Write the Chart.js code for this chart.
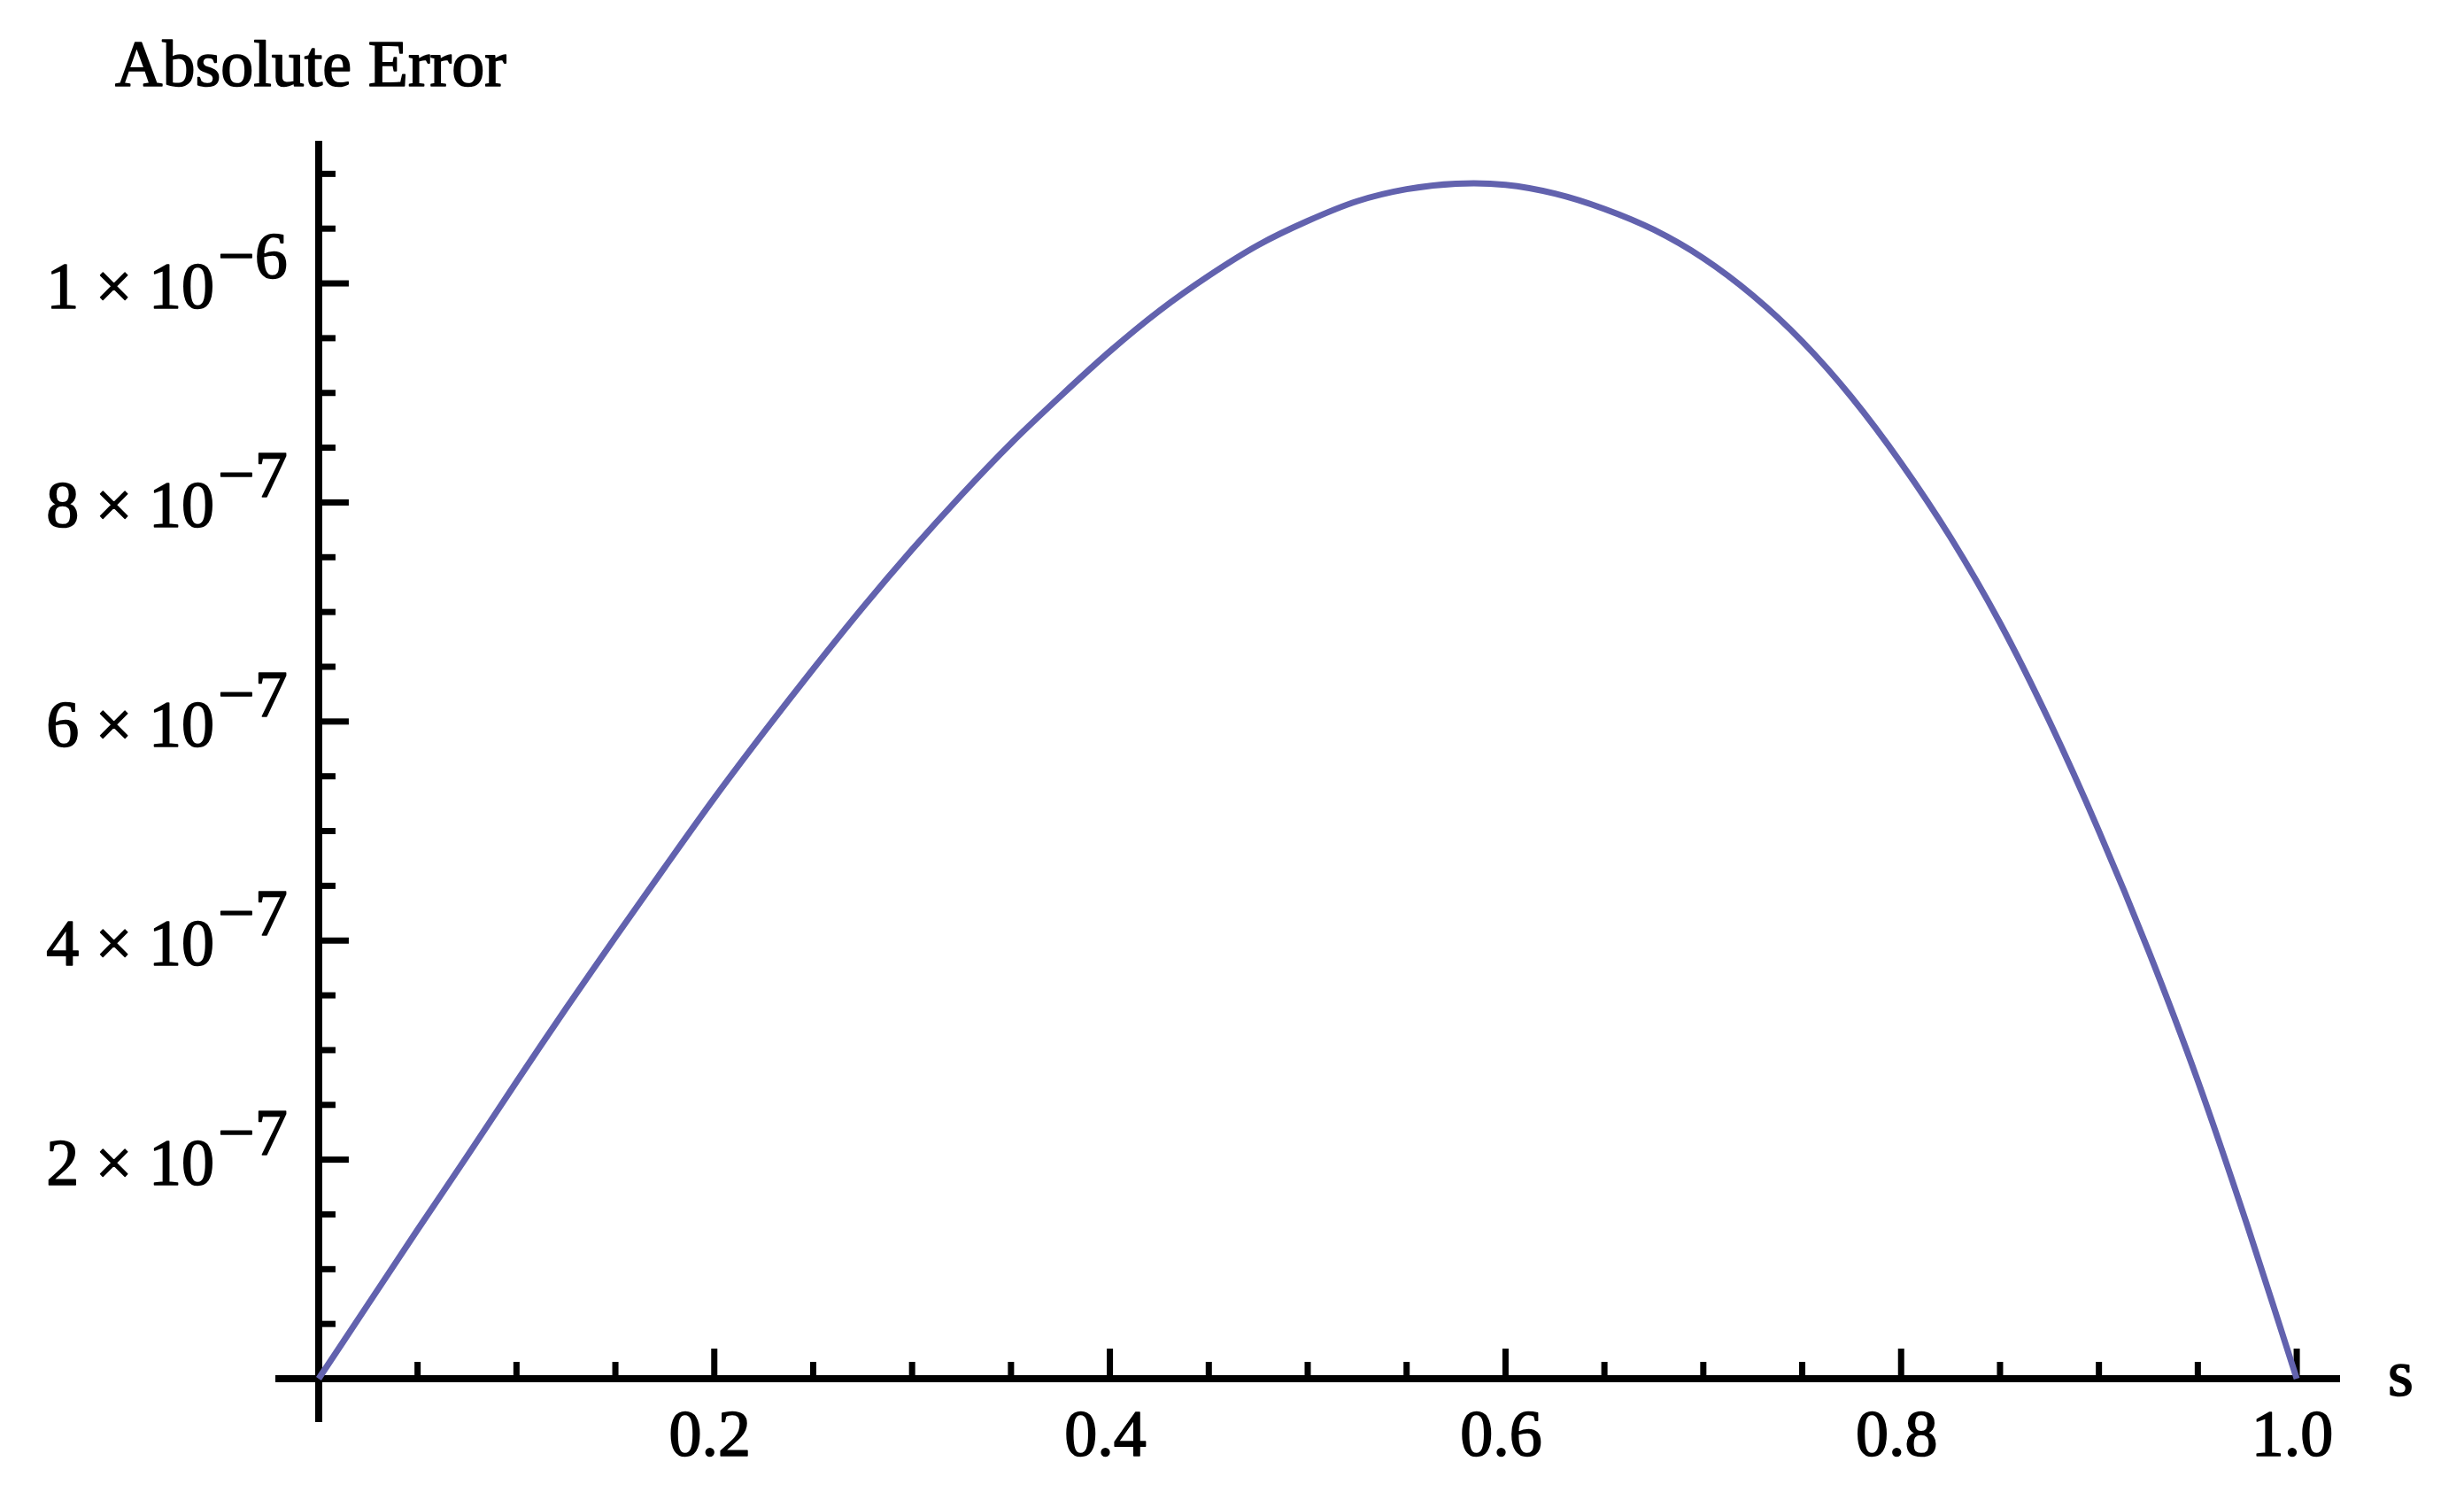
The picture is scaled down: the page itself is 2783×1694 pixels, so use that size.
<!DOCTYPE html>
<html>
<head>
<meta charset="utf-8">
<title>Absolute Error</title>
<script src="https://cdn.jsdelivr.net/npm/chart.js@4.4.0/dist/chart.umd.min.js"></script>
<style>
    html, body { margin: 0; padding: 0; background: #ffffff; }
    canvas { display: block; }
</style>
</head>
<body>
<canvas id="errorChart" width="2783" height="1694"></canvas>
<script>
// Valores (s y error absoluto en unidades de 1e-7)
const sValues = [0, 0.025, 0.05, 0.075, 0.1, 0.125, 0.15, 0.175, 0.2, 0.225,
    0.25, 0.275, 0.3, 0.325, 0.35, 0.375, 0.4, 0.425, 0.45, 0.475,
    0.5, 0.525, 0.55, 0.575, 0.6, 0.625, 0.65, 0.675, 0.7, 0.725,
    0.75, 0.775, 0.8, 0.825, 0.85, 0.875, 0.9, 0.925, 0.95, 0.975, 1.0];
const errorValues = [0, 0.68, 1.36, 2.03, 2.71, 3.38, 4.03, 4.67, 5.30, 5.90,
    6.48, 7.04, 7.57, 8.07, 8.54, 8.97, 9.38, 9.75, 10.07, 10.35,
    10.57, 10.75, 10.86, 10.91, 10.90, 10.82, 10.68, 10.49, 10.23, 9.89,
    9.47, 8.96, 8.36, 7.68, 6.90, 6.00, 5.00, 3.91, 2.72, 1.40, 0];

// Marcas de los ejes
const xMajorTicks = [0.2, 0.4, 0.6, 0.8, 1.0];
const xTickLabels = ['0.2', '0.4', '0.6', '0.8', '1.0'];
const xMinorTicks = [0.05, 0.1, 0.15, 0.25, 0.3, 0.35, 0.45, 0.5, 0.55, 0.65, 0.7, 0.75, 0.85, 0.9, 0.95];
const yMajorTicks = [2e-7, 4e-7, 6e-7, 8e-7, 1e-6];
const yTickBases = ['2 × 10', '4 × 10', '6 × 10', '8 × 10', '1 × 10'];
const yTickExponents = ['\u22127', '\u22127', '\u22127', '\u22127', '\u22126'];
const yMinorTicks = [0.5e-7, 1e-7, 1.5e-7, 2.5e-7, 3e-7, 3.5e-7, 4.5e-7, 5e-7, 5.5e-7,
    6.5e-7, 7e-7, 7.5e-7, 8.5e-7, 9e-7, 9.5e-7, 10.5e-7, 11e-7];
const yTitle = 'Absolute Error';
const xTitle = 's';

const labelFont = '74px "Liberation Serif", "Times New Roman", serif';

// Texto un poco más grueso, como en la imagen original
function boldText(ctx, text, x, y) {
    ctx.strokeText(text, x, y);
    ctx.fillText(text, x, y);
}

// Ejes al estilo Mathematica: cruzan en el origen, marcas hacia dentro
const axesPlugin = {
    id: 'mathematicaAxes',
    beforeDatasetsDraw(chart) {
        const { ctx, chartArea, scales: { x, y } } = chart;
        const x0 = x.getPixelForValue(0);
        const y0 = y.getPixelForValue(0);
        ctx.save();
        ctx.fillStyle = '#000000';
        ctx.strokeStyle = '#000000';

        // líneas de los ejes
        ctx.fillRect(chartArea.left, y0 - 4, chartArea.right - chartArea.left, 8);
        ctx.fillRect(x0 - 4, chartArea.top, 8, chartArea.bottom - chartArea.top);

        // marcas del eje x
        xMajorTicks.forEach(v => {
            const px = x.getPixelForValue(v);
            ctx.fillRect(px - 3.5, y0 - 34, 7, 34);
        });
        xMinorTicks.forEach(v => {
            const px = x.getPixelForValue(v);
            ctx.fillRect(px - 3.5, y0 - 19, 7, 19);
        });

        // marcas del eje y
        yMajorTicks.forEach(v => {
            const py = y.getPixelForValue(v);
            ctx.fillRect(x0, py - 3.5, 34, 7);
        });
        yMinorTicks.forEach(v => {
            const py = y.getPixelForValue(v);
            ctx.fillRect(x0, py - 3.5, 19, 7);
        });

        // etiquetas
        ctx.font = labelFont;
        ctx.lineWidth = 1.6;
        ctx.lineJoin = 'round';
        ctx.textBaseline = 'alphabetic';
        ctx.textAlign = 'center';
        xMajorTicks.forEach((v, i) => {
            boldText(ctx, xTickLabels[i], x.getPixelForValue(v) - 5, y0 + 87);
        });
        yMajorTicks.forEach((v, i) => {
            const py = y.getPixelForValue(v);
            ctx.textAlign = 'right';
            boldText(ctx, yTickBases[i], x0 - 118, py + 28);
            ctx.textAlign = 'left';
            boldText(ctx, yTickExponents[i], x0 - 114, py - 6);
        });

        // títulos
        ctx.textAlign = 'left';
        boldText(ctx, yTitle, 130, 97);
        boldText(ctx, xTitle, x.getPixelForValue(1) + 103, y0 + 19);
        ctx.restore();
    }
};

function createErrorChart() {
    const ctx = document.getElementById('errorChart').getContext('2d');
    return new Chart(ctx, {
        type: 'line',
        data: {
            datasets: [{
                label: yTitle,
                data: sValues.map((s, i) => ({ x: s, y: errorValues[i] * 1e-7 })),
                borderColor: 'rgb(98, 98, 174)',
                borderWidth: 7,
                pointRadius: 0,
                fill: false,
                tension: 0.3,
                clip: false
            }]
        },
        options: {
            responsive: false,
            animation: false,
            devicePixelRatio: 1,
            layout: {
                padding: { left: 311, right: 140, top: 159, bottom: 88 }
            },
            scales: {
                x: { type: 'linear', display: false, min: -0.0219, max: 1.0219 },
                y: { type: 'linear', display: false, min: -0.396e-7, max: 11.302e-7 }
            },
            plugins: {
                legend: { display: false },
                tooltip: { enabled: false }
            }
        },
        plugins: [axesPlugin]
    });
}

document.addEventListener('DOMContentLoaded', () => {
    createErrorChart();
});
</script>
</body>
</html>
